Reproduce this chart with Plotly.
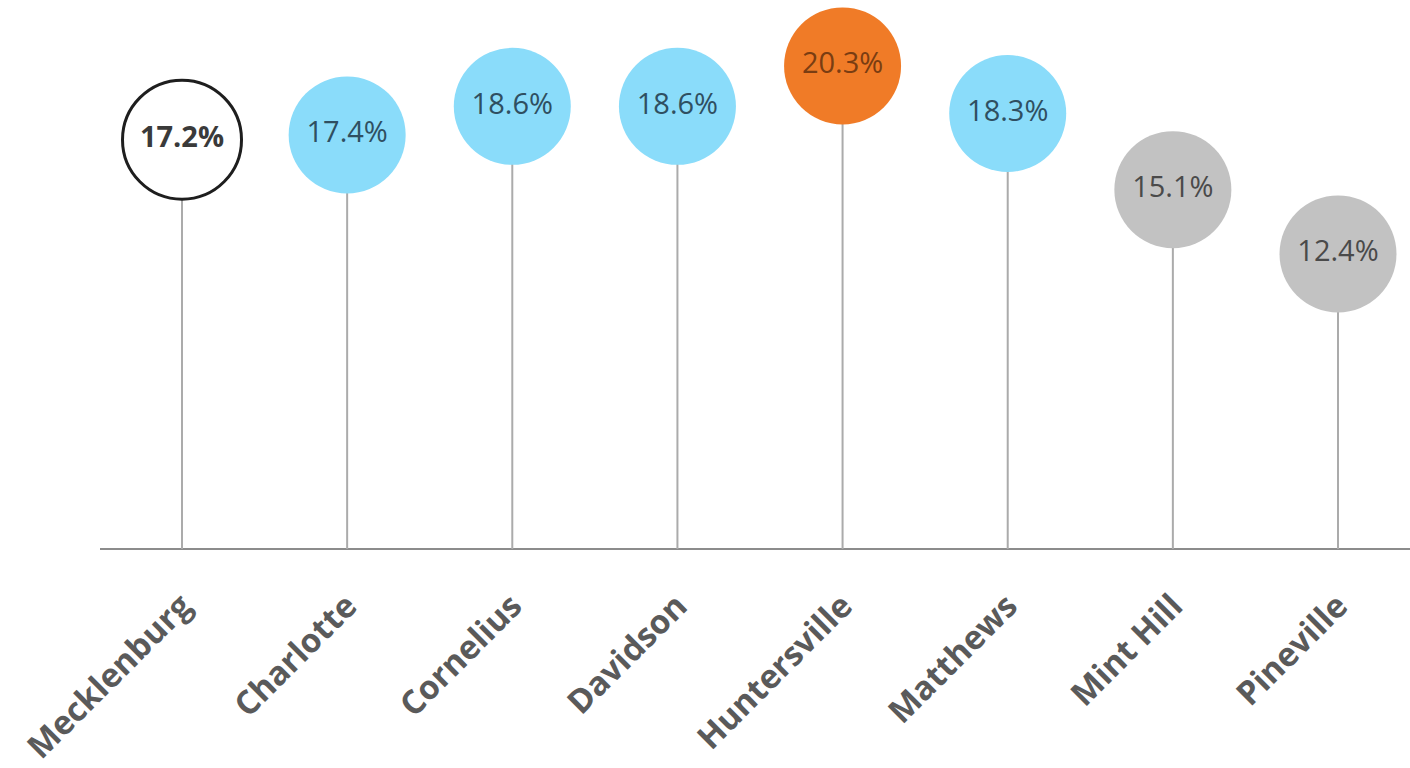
import plotly.graph_objects as go

# Share of population, by jurisdiction
places = ["Mecklenburg", "Charlotte", "Cornelius", "Davidson",
          "Huntersville", "Matthews", "Mint Hill", "Pineville"]
values = [17.2, 17.4, 18.6, 18.6, 20.3, 18.3, 15.1, 12.4]

# Group of each place: county reference, above county, highest, below county
groups = ["county", "above", "above", "above", "top", "above", "below", "below"]

fill = {"county": "#ffffff", "above": "#8adcfa", "top": "#f07b27", "below": "#c2c2c2"}
edge = {"county": "#1e1e1e", "above": "#8adcfa", "top": "#f07b27", "below": "#c2c2c2"}
edge_w = {"county": 3, "above": 0, "top": 0, "below": 0}
ink = {"county": "#3a3a3a", "above": "#2f4f61", "top": "#7a3d12", "below": "#4a4a4a"}

xs = list(range(len(places)))

# Stems from the baseline up to each value
stem_x, stem_y = [], []
for x, v in zip(xs, values):
    stem_x += [x, x, None]
    stem_y += [0, v, None]

labels = [("<b>%.1f%%</b>" if g == "county" else "%.1f%%") % v
          for v, g in zip(values, groups)]

fig = go.Figure()
fig.add_trace(go.Scatter(
    x=stem_x, y=stem_y, mode="lines",
    line=dict(color="#ababab", width=2),
    hoverinfo="skip", showlegend=False,
))
fig.add_trace(go.Scatter(
    x=xs, y=values, mode="markers+text",
    marker=dict(
        size=[119 if g == "county" else 117 for g in groups],
        color=[fill[g] for g in groups],
        line=dict(color=[edge[g] for g in groups], width=[edge_w[g] for g in groups]),
        opacity=1,
    ),
    text=labels, textposition="middle center",
    textfont=dict(family="Open Sans, sans-serif", size=29,
                  color=[ink[g] for g in groups]),
    cliponaxis=False, showlegend=False,
))

fig.update_layout(
    width=1410, height=768,
    margin=dict(l=100, r=0, t=0, b=219),
    paper_bgcolor="white", plot_bgcolor="white",
    xaxis=dict(
        range=[-0.4966, 7.436],
        tickmode="array", tickvals=xs, ticktext=["<b>%s</b>" % p for p in places],
        tickangle=-45,
        tickfont=dict(family="Open Sans, sans-serif", size=33, color="#5a5a5a"),
        showgrid=False, zeroline=False,
        showline=False, ticks="", ticklabelstandoff=30,
    ),
    yaxis=dict(
        range=[0, 23.07], showgrid=False, zeroline=True, zerolinecolor="#8c8c8c",
        zerolinewidth=2, showticklabels=False, showline=False, ticks="",
    ),
)

fig.write_html("out.html")
